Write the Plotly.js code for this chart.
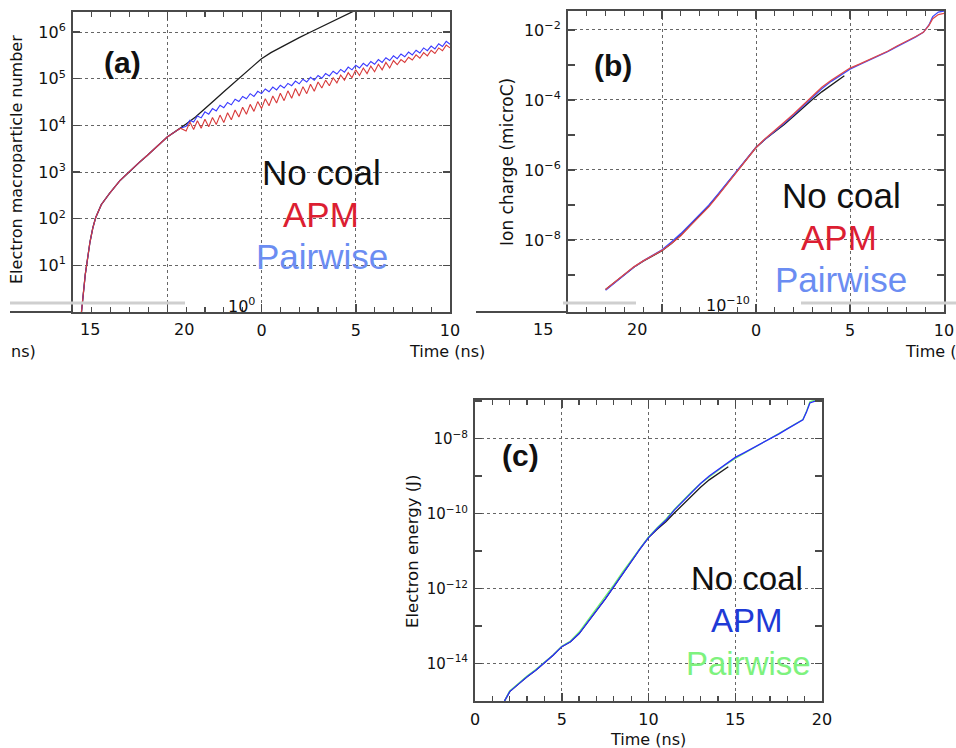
<!DOCTYPE html>
<html>
<head>
<meta charset="utf-8">
<script src="https://cdn.plot.ly/plotly-3.0.1.min.js"></script>
<style>html,body{margin:0;padding:0;background:#fff;}#chart{width:956px;height:748px;}</style>
</head>
<body>
<div id="chart"></div>
<script>
// ---------- Panel (a): electron macroparticle number (values as log10) ----------
const aEarlyT   = [0.45, 0.55, 0.65, 0.75, 0.9, 1.05, 1.2, 1.5, 1.95, 2.5, 2.95, 3.5, 3.95, 4.5, 5.0, 5.4, 5.7];
const aEarlyLog = [0.0, 0.45, 0.8, 1.08, 1.5, 1.8, 2.02, 2.3, 2.55, 2.82, 3.0, 3.2, 3.36, 3.57, 3.75, 3.86, 3.94];
const aNoCoalT   = [6.0, 6.5, 7.0, 7.5, 8.0, 8.5, 9.0, 9.5, 10.0, 10.5, 11.0, 11.5, 12.0, 12.5, 13.0, 13.5, 14.0, 14.5, 14.9];
const aNoCoalLog = [4.03, 4.18, 4.35, 4.54, 4.72, 4.9, 5.08, 5.25, 5.43, 5.56, 5.67, 5.78, 5.88, 5.98, 6.08, 6.18, 6.28, 6.38, 6.45];
const aSawT = [6.0,6.2,6.4,6.6,6.8,7.0,7.2,7.4,7.6,7.8,8.0,8.2,8.4,8.6,8.8,9.0,9.2,9.4,9.6,9.8,
               10.0,10.2,10.4,10.6,10.8,11.0,11.2,11.4,11.6,11.8,12.0,12.2,12.4,12.6,12.8,13.0,13.2,13.4,13.6,13.8,
               14.0,14.2,14.4,14.6,14.8,15.0,15.2,15.4,15.6,15.8,16.0,16.2,16.4,16.6,16.8,17.0,17.2,17.4,17.6,17.8,
               18.0,18.2,18.4,18.6,18.8,19.0,19.2,19.4,19.6,19.8,20.0];
const aApmLog = [3.88,4.07,3.91,4.10,3.94,4.13,3.97,4.17,4.02,4.22,
                 4.06,4.27,4.12,4.33,4.18,4.39,4.24,4.45,4.30,4.51,
                 4.36,4.57,4.42,4.63,4.48,4.69,4.53,4.74,4.58,4.79,
                 4.63,4.83,4.68,4.88,4.73,4.93,4.80,4.97,4.85,5.02,
                 4.91,5.08,4.97,5.13,5.02,5.19,5.07,5.23,5.11,5.27,
                 5.15,5.31,5.19,5.35,5.23,5.39,5.30,5.41,5.35,5.46,
                 5.40,5.51,5.44,5.56,5.49,5.61,5.54,5.66,5.60,5.72,
                 5.66];
const aPairLog = [3.98,4.11,4.07,4.20,4.16,4.29,4.24,4.36,4.31,4.43,
                  4.38,4.49,4.44,4.56,4.51,4.62,4.57,4.68,4.62,4.73,
                  4.68,4.78,4.72,4.82,4.76,4.86,4.80,4.90,4.85,4.95,
                  4.89,4.99,4.93,5.03,4.97,5.07,5.01,5.11,5.06,5.16,
                  5.10,5.20,5.14,5.25,5.19,5.29,5.23,5.33,5.27,5.37,
                  5.31,5.41,5.35,5.45,5.39,5.49,5.43,5.53,5.47,5.57,
                  5.51,5.61,5.55,5.66,5.60,5.70,5.64,5.75,5.69,5.80,
                  5.74];

// ---------- Panel (b): ion charge, microC (log10) ----------
const bT = [2.0,2.5,3.0,3.5,4.0,4.5,5.0,5.5,6.0,6.5,7.0,7.5,8.0,8.5,9.0,9.5,10.0,10.5,11.0,11.5,
            12.0,12.5,13.0,13.5,14.0,14.5,15.0,15.5,16.0,16.5,17.0,17.5,18.0,18.5,18.9,19.2,19.4,19.7,20.0];
const bApmLog = [-9.42,-9.2,-8.98,-8.77,-8.6,-8.45,-8.3,-8.1,-7.88,-7.6,-7.33,-7.05,-6.72,-6.38,-6.05,-5.68,-5.36,-5.1,-4.88,-4.64,
                 -4.4,-4.15,-3.9,-3.64,-3.44,-3.26,-3.09,-2.98,-2.86,-2.74,-2.61,-2.46,-2.33,-2.19,-2.07,-1.87,-1.68,-1.56,-1.53];
const bPairLog = [-9.44,-9.22,-9.0,-8.78,-8.6,-8.44,-8.28,-8.06,-7.82,-7.55,-7.28,-7.0,-6.68,-6.35,-6.02,-5.66,-5.35,-5.12,-4.9,-4.67,
                  -4.43,-4.18,-3.93,-3.68,-3.47,-3.29,-3.12,-2.99,-2.87,-2.75,-2.62,-2.48,-2.35,-2.2,-2.07,-1.86,-1.62,-1.49,-1.46];
const bNoCoalT = [2.0,2.5,3.0,3.5,4.0,4.5,5.0,5.5,6.0,6.5,7.0,7.5,8.0,8.5,9.0,9.5,10.0,10.5,11.0,11.5,12.0,12.5,13.0,13.5,14.0,14.7];
const bNoCoalLog = [-9.42,-9.2,-8.98,-8.78,-8.61,-8.46,-8.31,-8.1,-7.86,-7.58,-7.3,-7.02,-6.7,-6.36,-6.04,-5.68,-5.36,-5.12,-4.92,-4.7,
                    -4.47,-4.22,-3.99,-3.77,-3.57,-3.31];

// ---------- Panel (c): electron energy, J (log10) ----------
const cT = [1.7,2.0,2.5,3.0,3.5,4.0,4.5,5.0,5.5,6.0,6.5,7.0,7.5,8.0,8.5,9.0,9.5,10.0,10.5,11.0,
            11.5,12.0,12.5,13.0,13.5,14.0,14.5,15.0,15.5,16.0,16.5,17.0,17.5,18.0,18.5,18.9,19.1,19.3,19.6,20.0];
const cApmLog = [-15.0,-14.75,-14.55,-14.35,-14.18,-13.98,-13.78,-13.55,-13.42,-13.2,-12.9,-12.6,-12.28,-11.95,-11.6,-11.28,-10.95,-10.64,-10.4,-10.18,
                 -9.9,-9.66,-9.42,-9.2,-9.0,-8.84,-8.66,-8.5,-8.38,-8.26,-8.13,-8.0,-7.88,-7.74,-7.6,-7.5,-7.3,-7.05,-7.0,-7.0];
const cPairLog = [-15.0,-14.73,-14.53,-14.33,-14.16,-13.97,-13.77,-13.54,-13.4,-13.16,-12.85,-12.54,-12.22,-11.9,-11.56,-11.24,-10.92,-10.62,-10.38,-10.15,
                  -9.88,-9.64,-9.41,-9.2,-9.02,-8.86,-8.68,-8.53,-8.4,-8.27,-8.14,-8.01,-7.88,-7.74,-7.6,-7.49,-7.28,-7.02,-6.97,-6.97];
const cNoCoalT = [1.7,2.0,2.5,3.0,3.5,4.0,4.5,5.0,5.5,6.0,6.5,7.0,7.5,8.0,8.5,9.0,9.5,10.0,10.5,11.0,11.5,12.0,12.5,13.0,13.5,14.0,14.6];
const cNoCoalLog = [-15.0,-14.75,-14.55,-14.35,-14.18,-13.98,-13.78,-13.55,-13.42,-13.2,-12.9,-12.6,-12.28,-11.95,-11.6,-11.28,-10.95,-10.64,
                    -10.42,-10.22,-9.98,-9.75,-9.52,-9.3,-9.1,-8.93,-8.75];

// ---------- Tick labels ----------
const topTickVals = [5, 10, 15, 20];
const topTickText = ['', '0', '5', '10'];
const topExtraTicks = ['15', '20'];
const aYTickVals = [1e1, 1e2, 1e3, 1e4, 1e5, 1e6];
const aYTickText = ['10<sup>1</sup>','10<sup>2</sup>','10<sup>3</sup>','10<sup>4</sup>','10<sup>5</sup>','10<sup>6</sup>'];
const bYTickVals = [1e-8, 1e-6, 1e-4, 1e-2];
const bYTickText = ['10<sup>−8</sup>','10<sup>−6</sup>','10<sup>−4</sup>','10<sup>−2</sup>'];
const bYMinor = [1e-9, 1e-7, 1e-5, 1e-3];
const cXTickVals = [0, 5, 10, 15, 20];
const cXTickText = ['0', '5', '10', '15', '20'];
const cYTickVals = [1e-14, 1e-12, 1e-10, 1e-8];
const cYTickText = ['10<sup>−14</sup>','10<sup>−12</sup>','10<sup>−10</sup>','10<sup>−8</sup>'];
const cYMinor = [1e-13, 1e-11, 1e-9, 1e-7];

// ---------- helpers ----------
const W = 956, H = 748;
const X = p => p / W;
const Y = p => 1 - p / H;
const pow10 = arr => arr.map(v => Math.pow(10, v));
const frame = '#4a4a4a';
const tickFontFam = 'DejaVu Sans, Verdana, sans-serif';
const bigFam = 'Liberation Sans, Arial, sans-serif';

function xAxis(dom, anchor, tv, tt) {
  return {
    domain: dom, anchor: anchor, range: [0, 20],
    tickmode: 'array', tickvals: tv, ticktext: tt,
    ticks: 'inside', ticklen: 8, tickwidth: 1.5, tickcolor: frame,
    mirror: 'ticks', showline: true, linecolor: frame, linewidth: 2,
    showgrid: true, gridcolor: '#666', griddash: 'dot', gridwidth: 1,
    zeroline: false, ticklabelstandoff: 3,
    tickfont: {family: tickFontFam, size: 16, color: '#111'},
    minor: {tickmode: 'linear', tick0: 0, dtick: 1, ticks: 'inside', ticklen: 5, tickwidth: 1.2, tickcolor: frame, showgrid: false}
  };
}
function yAxis(dom, anchor, range, tv, tt, minorVals, fs) {
  const ax = {
    type: 'log', domain: dom, anchor: anchor, range: range,
    tickmode: 'array', tickvals: tv, ticktext: tt,
    ticks: 'inside', ticklen: 7, tickwidth: 1.5, tickcolor: frame,
    mirror: 'ticks', showline: true, linecolor: frame, linewidth: 2,
    showgrid: true, gridcolor: '#666', griddash: 'dot', gridwidth: 1,
    zeroline: false, ticklabelstandoff: 2,
    tickfont: {family: tickFontFam, size: fs, color: '#111'}
  };
  if (minorVals) ax.minor = {tickmode: 'array', tickvals: minorVals, ticks: 'inside', ticklen: 7, tickwidth: 1.5, tickcolor: frame, showgrid: false};
  return ax;
}
function line(x, y, color, xa, ya, name, w) {
  return {type: 'scatter', mode: 'lines', x: x, y: y, xaxis: xa, yaxis: ya, name: name,
          line: {color: color, width: w || 1.3}, hoverinfo: 'skip'};
}
function ann(text, x, y, size, color, opts) {
  return Object.assign({text: text, x: X(x), y: Y(y), xref: 'paper', yref: 'paper', showarrow: false,
    xanchor: 'center', yanchor: 'middle', font: {family: bigFam, size: size, color: color}}, opts || {});
}
const small = (s) => ({font: {family: tickFontFam, size: s, color: '#111'}});

const traces = [
  // (a)
  line(aEarlyT.concat(aNoCoalT), pow10(aEarlyLog.concat(aNoCoalLog)), '#1c1c1c', 'x', 'y', 'No coal'),
  line(aEarlyT.concat(aSawT), pow10(aEarlyLog.concat(aPairLog)), '#3a3aff', 'x', 'y', 'Pairwise', 1.1),
  line(aEarlyT.concat(aSawT), pow10(aEarlyLog.concat(aApmLog)), '#d83a3a', 'x', 'y', 'APM', 1.1),
  // (b)
  line(bNoCoalT, pow10(bNoCoalLog), '#1c1c1c', 'x2', 'y2', 'No coal'),
  line(bT, pow10(bPairLog), '#3a4aff', 'x2', 'y2', 'Pairwise'),
  line(bT, pow10(bApmLog), '#e04848', 'x2', 'y2', 'APM'),
  // (c)
  line(cNoCoalT, pow10(cNoCoalLog), '#1c1c1c', 'x3', 'y3', 'No coal'),
  line(cT, pow10(cPairLog), '#6ef06e', 'x3', 'y3', 'Pairwise'),
  line(cT, pow10(cApmLog), '#2a2aff', 'x3', 'y3', 'APM')
];

const layout = {
  width: W, height: H, margin: {l: 0, r: 0, t: 0, b: 0, pad: 0},
  paper_bgcolor: '#fff', plot_bgcolor: '#fff', showlegend: false,
  xaxis:  xAxis([X(73), X(450)], 'y', topTickVals, topTickText),
  yaxis:  yAxis([Y(312), Y(12)], 'x', [0, 6.43], aYTickVals, aYTickText, null, 16),
  xaxis2: xAxis([X(568), X(944)], 'y2', topTickVals, topTickText),
  yaxis2: yAxis([Y(312), Y(11)], 'x2', [-10.06, -1.46], bYTickVals, bYTickText, bYMinor, 16),
  xaxis3: xAxis([X(475), X(822)], 'y3', cXTickVals, cXTickText),
  yaxis3: yAxis([Y(701), Y(400)], 'x3', [-15.0, -6.97], cYTickVals, cYTickText, cYMinor, 15),
  shapes: [
    {type: 'line', xref: 'paper', yref: 'paper', x0: X(10), x1: X(185), y0: Y(303), y1: Y(303), line: {color: '#cfcfcf', width: 3}},
    {type: 'line', xref: 'paper', yref: 'paper', x0: X(563), x1: X(636), y0: Y(303), y1: Y(303), line: {color: '#cfcfcf', width: 3}},
    {type: 'line', xref: 'paper', yref: 'paper', x0: X(801), x1: X(956), y0: Y(303), y1: Y(303), line: {color: '#cfcfcf', width: 3}},
    {type: 'line', xref: 'paper', yref: 'paper', x0: X(10), x1: X(73), y0: Y(312), y1: Y(312), line: {color: frame, width: 2}},
    {type: 'line', xref: 'paper', yref: 'paper', x0: X(476), x1: X(568), y0: Y(312), y1: Y(312), line: {color: frame, width: 2}}
  ],
  annotations: [
    // panel labels
    ann('<b>(a)</b>', 122, 62, 30, '#111'),
    ann('<b>(b)</b>', 613, 65, 30, '#111'),
    ann('<b>(c)</b>', 520, 455, 30, '#111'),
    // series labels (a)
    ann('No coal', 321, 172, 35, '#111'),
    ann('APM', 321, 214, 35, '#dc1e32'),
    ann('Pairwise', 322, 256, 35, '#6b8df2'),
    // series labels (b)
    ann('No coal', 841, 196, 35, '#111'),
    ann('APM', 839, 238, 35, '#dc1e32'),
    ann('Pairwise', 841, 280, 35, '#6b8df2'),
    // series labels (c)
    ann('No coal', 747, 578, 33, '#111'),
    ann('APM', 747, 620, 33, '#1e3ad6'),
    ann('Pairwise', 748, 663, 33, '#7ef27e'),
    // axis titles
    ann('Electron macroparticle number', 17, 160, 16, '#111', Object.assign({textangle: -90}, small(16))),
    ann('Ion charge (microC)', 507, 162, 17, '#111', Object.assign({textangle: -90}, small(17))),
    ann('Electron energy (J)', 412, 552, 16.5, '#111', Object.assign({textangle: -90}, small(16.5))),
    ann('Time (ns)', 648, 739, 16, '#111', small(16)),
    ann('Time (ns)', 407, 351, 16, '#111', Object.assign({xanchor: 'left'}, small(16))),
    ann('ns)', 9, 351, 16, '#111', Object.assign({xanchor: 'left'}, small(16))),
    ann('Time (', 903, 351, 16, '#111', Object.assign({xanchor: 'left'}, small(16))),
    // stray tick labels of the top strip
    ann(topExtraTicks[0], 90, 329, 16, '#111', small(16)),
    ann(topExtraTicks[1], 184, 329, 16, '#111', small(16)),
    ann(topExtraTicks[0], 543, 329, 16, '#111', small(16)),
    ann(topExtraTicks[1], 637, 329, 16, '#111', small(16)),
    ann('10<sup>0</sup>', 257, 305, 16, '#111', Object.assign({xanchor: 'right'}, small(16))),
    ann('10<sup>−10</sup>', 752, 304, 16, '#111', Object.assign({xanchor: 'right'}, small(16)))
  ]
};

Plotly.newPlot('chart', traces, layout, {displayModeBar: false, staticPlot: true});
</script>
</body>
</html>
